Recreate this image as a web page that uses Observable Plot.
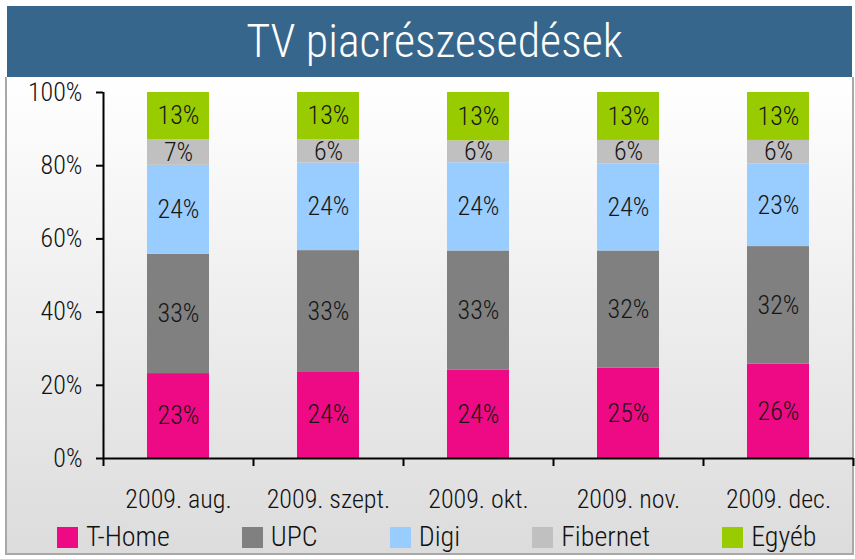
<!DOCTYPE html>
<html><head><meta charset="utf-8">
<script src="https://cdn.jsdelivr.net/npm/d3@7"></script>
<script src="https://cdn.jsdelivr.net/npm/@observablehq/plot@0.6"></script>
<style>
body{margin:0;background:#fff;}
#page{position:relative;width:855px;height:559px;overflow:hidden;font-family:"Roboto Condensed","Liberation Sans",sans-serif;font-weight:300;color:#111;}
#title{position:absolute;left:7px;top:6px;width:845px;height:71px;background:#36668c;color:#fff;font-family:"Roboto Condensed",Roboto,"Liberation Sans",sans-serif;font-weight:300;font-size:46px;text-align:center;text-indent:10px;line-height:71px;white-space:nowrap;}
#box{position:absolute;left:5px;top:77px;width:845px;height:476px;border:2px solid #a8a8a8;border-top:none;background:linear-gradient(#ffffff,#dcdcdc);}
#chart{position:absolute;left:0;top:77px;}
#legend{position:absolute;left:57px;top:522px;display:flex;align-items:center;font-size:28px;white-space:nowrap;line-height:30px;}
#legend .item{display:flex;align-items:center;margin-right:72px;}
#legend .sw{width:21px;height:21px;margin-right:8px;}
</style></head>
<body>
<div id="page">
  <div id="box"></div>
  <div id="title">TV piacrészesedések</div>
  <div id="chart"></div>
  <div id="legend"></div>
</div>
<script>
const months = ["2009. aug.", "2009. szept.", "2009. okt.", "2009. nov.", "2009. dec."];
const series = ["T-Home", "UPC", "Digi", "Fibernet", "Egyéb"];
const colors = ["#ee0a85", "#808080", "#99ccff", "#c0c0c0", "#99cc00"];
const tHome    = [23.2, 23.7, 24.2, 24.7, 25.8];
const upc      = [32.6, 33.1, 32.5, 32.0, 32.1];
const digi     = [24.3, 23.9, 24.1, 23.8, 22.6];
const fibernet = [7.0, 6.4, 6.0, 6.4, 6.4];
const egyeb    = [12.9, 12.9, 13.2, 13.1, 13.1];
const yTicks = [0, 20, 40, 60, 80, 100];

const seriesValues = [tHome, upc, digi, fibernet, egyeb];
const data = months.flatMap((m, i) => series.map((s, j) => ({month: m, series: s, value: seriesValues[j][i]})));

const W = 855, H = 440, ML = 103, MR = 2, MT = 15, MB = 59;
const step = (W - ML - MR) / months.length;
const font = '"Roboto Condensed","Liberation Sans",sans-serif';

const chart = Plot.plot({
  width: W, height: H, marginLeft: ML, marginRight: MR, marginTop: MT, marginBottom: MB,
  style: {background: "transparent", fontFamily: font, fontWeight: 300, color: "#111", overflow: "visible"},
  x: {domain: months, paddingInner: 0.587, paddingOuter: 0.2935, axis: null},
  y: {domain: [0, 100], axis: null},
  color: {domain: series, range: colors},
  marks: [
    Plot.barY(data, {x: "month", y: "value", fill: "series"}),
    Plot.text(data, Plot.stackY({x: "month", y: "value", z: "series", text: d => Math.round(d.value) + "%", fontSize: 26, fontWeight: 300, fill: "#161616"})),
    Plot.ruleY([0], {stroke: "#000", strokeWidth: 2}),
    Plot.ruleX([months[0]], {x: d => d, dx: -step / 2, y1: 0, y2: 100, stroke: "#000", strokeWidth: 2}),
    Plot.axisY({ticks: yTicks, tickFormat: d => d + "%", tickSize: 7, tickPadding: 14, fontSize: 26, fontWeight: 300, strokeWidth: 2, stroke: "#000", label: null}),
    Plot.axisX({tickSize: 8, tickFormat: () => "", dx: -step / 2, strokeWidth: 2, stroke: "#000", label: null}),
    Plot.axisX([months[months.length - 1]], {tickSize: 8, tickFormat: () => "", dx: step / 2, strokeWidth: 2, stroke: "#000", label: null}),
    Plot.axisX({tickSize: 0, tickPadding: 31, fontSize: 26, fontWeight: 300, label: null})
  ]
});
document.getElementById("chart").appendChild(chart);

const legend = document.getElementById("legend");
series.forEach((s, i) => {
  const item = document.createElement("div");
  item.className = "item";
  const sw = document.createElement("div");
  sw.className = "sw";
  sw.style.background = colors[i];
  const t = document.createElement("span");
  t.textContent = s;
  item.appendChild(sw); item.appendChild(t);
  legend.appendChild(item);
});
</script>
</body></html>
